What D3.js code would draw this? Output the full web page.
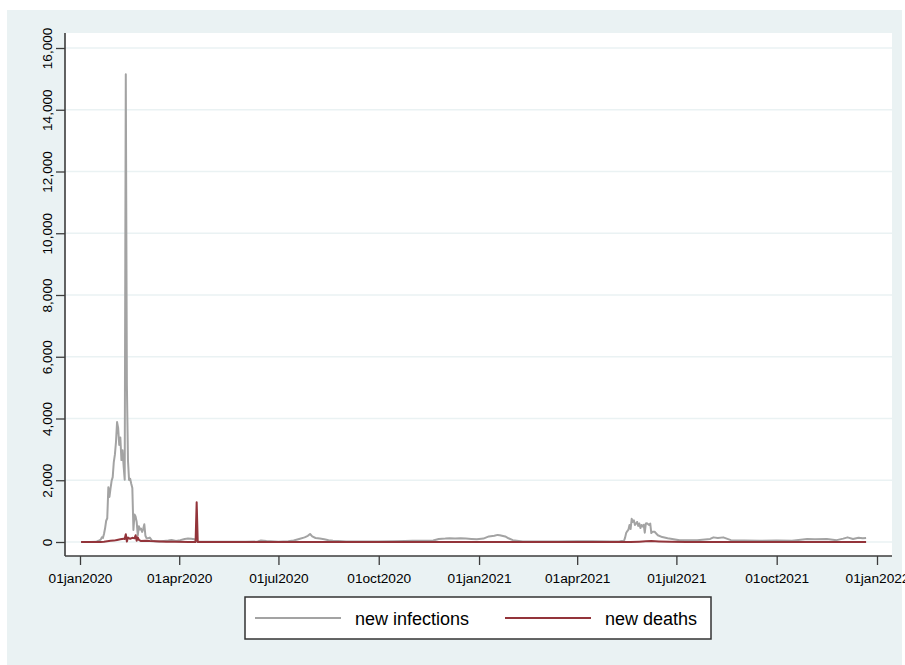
<!DOCTYPE html>
<html>
<head>
<meta charset="utf-8">
<script src="https://cdn.jsdelivr.net/npm/d3@7"></script>
<style>
  body { margin: 0; background: #fff; }
  svg { display: block; font-family: "Liberation Sans", Arial, sans-serif; }
</style>
</head>
<body>
<div id="chart"></div>
<script>
// Daily new infections (irregular dates where the curve changes)
const infectionDates = [
  "2020-01-02","2020-01-10","2020-01-16","2020-01-18","2020-01-20","2020-01-21","2020-01-22","2020-01-23",
  "2020-01-24","2020-01-25","2020-01-26","2020-01-27","2020-01-28","2020-01-29","2020-01-30","2020-01-31",
  "2020-02-01","2020-02-02","2020-02-03","2020-02-04","2020-02-05","2020-02-06","2020-02-07","2020-02-08",
  "2020-02-09","2020-02-10","2020-02-11","2020-02-12","2020-02-13","2020-02-14","2020-02-15","2020-02-16",
  "2020-02-17","2020-02-18","2020-02-19","2020-02-20","2020-02-21","2020-02-22","2020-02-23","2020-02-24",
  "2020-02-25","2020-02-26","2020-02-27","2020-02-28","2020-02-29","2020-03-01","2020-03-02","2020-03-03",
  "2020-03-05","2020-03-07","2020-03-10","2020-03-14","2020-03-18","2020-03-22","2020-03-25","2020-03-29",
  "2020-04-02","2020-04-06","2020-04-09","2020-04-12","2020-04-15","2020-04-17","2020-04-18","2020-05-01",
  "2020-05-15","2020-06-01","2020-06-12","2020-06-15","2020-06-20","2020-07-01","2020-07-10","2020-07-15",
  "2020-07-20","2020-07-25","2020-07-28","2020-07-30","2020-08-01","2020-08-04","2020-08-08","2020-08-12",
  "2020-08-16","2020-08-20","2020-08-25","2020-09-01","2020-09-15","2020-10-01","2020-10-15","2020-10-25",
  "2020-11-01","2020-11-10","2020-11-20","2020-11-25","2020-12-01","2020-12-05","2020-12-10","2020-12-15",
  "2020-12-20","2020-12-25","2020-12-30","2021-01-05","2021-01-10","2021-01-15","2021-01-18","2021-01-20",
  "2021-01-25","2021-01-28","2021-02-01","2021-02-10","2021-02-20","2021-03-01","2021-03-15","2021-04-01",
  "2021-04-15","2021-05-01","2021-05-10","2021-05-14","2021-05-15","2021-05-16","2021-05-17","2021-05-18",
  "2021-05-19","2021-05-20","2021-05-21","2021-05-22","2021-05-23","2021-05-24","2021-05-25","2021-05-26",
  "2021-05-27","2021-05-28","2021-05-29","2021-05-30","2021-05-31","2021-06-01","2021-06-02","2021-06-03",
  "2021-06-04","2021-06-06","2021-06-07","2021-06-08","2021-06-09","2021-06-11","2021-06-14","2021-06-18",
  "2021-06-23","2021-07-04","2021-07-20","2021-08-01","2021-08-04","2021-08-08","2021-08-13","2021-08-20",
  "2021-09-01","2021-09-15","2021-10-01","2021-10-15","2021-10-29","2021-11-05","2021-11-16","2021-11-25",
  "2021-12-01","2021-12-05","2021-12-10","2021-12-15","2021-12-19","2021-12-22"
];
const infections = [
  0,0,5,40,77,149,131,259,
  444,688,769,1771,1459,1737,1982,2102,
  2590,2829,3235,3884,3694,3143,3385,2652,
  2973,2467,2015,15152,5090,2641,2008,2048,
  1886,1749,391,889,823,648,214,508,
  406,433,327,427,573,202,125,119,
  143,44,24,20,34,46,67,31,
  60,100,110,108,90,30,20,10,
  8,5,15,50,30,10,25,50,
  100,150,200,260,180,130,110,90,
  60,40,30,15,15,20,25,35,
  40,40,50,100,110,120,110,120,
  110,100,90,110,180,200,230,220,
  180,120,60,20,15,20,20,25,
  25,20,25,40,150,300,350,400,
  550,420,750,650,700,550,600,650,
  520,600,450,550,500,560,300,600,
  610,550,600,290,330,330,220,160,
  120,60,60,100,150,130,150,60,
  50,40,50,40,100,90,100,60,
  110,150,100,140,120,130
];

// Daily new deaths
const deathDates = [
  "2020-01-02","2020-01-20","2020-01-23","2020-01-26","2020-01-29","2020-02-01","2020-02-04","2020-02-07",
  "2020-02-10","2020-02-11","2020-02-12","2020-02-13","2020-02-14","2020-02-16","2020-02-18","2020-02-20",
  "2020-02-21","2020-02-22","2020-02-23","2020-02-24","2020-02-26","2020-03-01","2020-03-05","2020-03-10",
  "2020-03-15","2020-03-20","2020-03-28","2020-04-10","2020-04-16","2020-04-17","2020-04-18","2021-05-20",
  "2021-05-28","2021-06-03","2021-06-08","2021-06-15","2021-06-25","2021-07-10","2021-12-22"
];
const deaths = [
  0,0,9,24,38,45,66,86,
  108,97,254,13,143,105,136,118,
  220,40,150,71,29,42,30,22,
  14,7,5,2,1,1290,0,0,
  12,25,30,20,10,3,0
];

const yTicks = [0, 2000, 4000, 6000, 8000, 10000, 12000, 14000, 16000];
const xTicks = ["2020-01-01","2020-04-01","2020-07-01","2020-10-01","2021-01-01","2021-04-01","2021-07-01","2021-10-01","2022-01-01"];
const seriesNames = ["new infections", "new deaths"];

const width = 905, height = 665;
const plot = { left: 65, right: 892, top: 33, bottom: 556 };
const colors = ["#a3a3a3", "#93343a"];

const parse = d3.timeParse("%Y-%m-%d");
const fmtTick = d => d3.timeFormat("%d%b%Y")(d).toLowerCase();

const svg = d3.select("#chart").append("svg")
  .attr("width", width)
  .attr("height", height);

// graph region
svg.append("rect")
  .attr("x", 7).attr("y", 10)
  .attr("width", 895).attr("height", 655)
  .attr("fill", "#eaf2f3");

// plot region
svg.append("rect")
  .attr("x", plot.left).attr("y", plot.top)
  .attr("width", plot.right - plot.left).attr("height", plot.bottom - plot.top)
  .attr("fill", "#fff");

const x = d3.scaleTime()
  .domain([parse("2020-01-01"), parse("2022-01-01")])
  .range([80, 877]);

const y = d3.scaleLinear()
  .domain([0, 16000])
  .range([542, 48]);

// grid lines
svg.append("g")
  .selectAll("line")
  .data(yTicks)
  .join("line")
  .attr("x1", plot.left).attr("x2", plot.right)
  .attr("y1", d => y(d)).attr("y2", d => y(d))
  .attr("stroke", "#eaf2f3")
  .attr("stroke-width", 1.5);

// series
const line = d3.line()
  .x(d => x(d.date))
  .y(d => y(d.value));

const infData = infectionDates.map((d, i) => ({ date: parse(d), value: infections[i] }));
const deathData = deathDates.map((d, i) => ({ date: parse(d), value: deaths[i] }));

[infData, deathData].forEach((data, i) => {
  svg.append("path")
    .datum(data)
    .attr("d", line)
    .attr("fill", "none")
    .attr("stroke", colors[i])
    .attr("stroke-width", 2)
    .attr("stroke-linejoin", "round");
});

// Y axis
const yAxis = svg.append("g")
  .attr("transform", `translate(${plot.left},0)`)
  .call(d3.axisLeft(y).tickValues(yTicks).tickSize(9).tickPadding(4).tickFormat(d3.format(",")));
yAxis.select(".domain").remove();
yAxis.selectAll(".tick line").attr("stroke", "#3c3c3c").attr("stroke-width", 1.3);
yAxis.selectAll(".tick text")
  .attr("transform", "rotate(-90)")
  .attr("x", 0).attr("y", -13)
  .attr("dy", 0)
  .attr("text-anchor", "middle")
  .attr("fill", "#000")
  .style("font-size", "13.5px");
svg.append("line")
  .attr("x1", plot.left).attr("x2", plot.left)
  .attr("y1", plot.top).attr("y2", plot.bottom)
  .attr("stroke", "#3c3c3c").attr("stroke-width", 1.6);

// X axis
const xAxis = svg.append("g")
  .attr("transform", `translate(0,${plot.bottom})`)
  .call(d3.axisBottom(x).tickValues(xTicks.map(parse)).tickSize(9).tickFormat(fmtTick));
xAxis.select(".domain").remove();
xAxis.selectAll(".tick line").attr("stroke", "#3c3c3c").attr("stroke-width", 1.3);
xAxis.selectAll(".tick text")
  .attr("y", 27).attr("dy", 0)
  .attr("fill", "#000")
  .style("font-size", "13.7px");
svg.append("line")
  .attr("x1", plot.left).attr("x2", plot.right)
  .attr("y1", plot.bottom).attr("y2", plot.bottom)
  .attr("stroke", "#3c3c3c").attr("stroke-width", 1.6);

// legend
const legend = svg.append("g");
legend.append("rect")
  .attr("x", 245).attr("y", 597)
  .attr("width", 466).attr("height", 42)
  .attr("fill", "#fff")
  .attr("stroke", "#333")
  .attr("stroke-width", 1.5);

const legendX = [255, 505];
seriesNames.forEach((name, i) => {
  legend.append("line")
    .attr("x1", legendX[i]).attr("x2", legendX[i] + 86)
    .attr("y1", 618).attr("y2", 618)
    .attr("stroke", colors[i])
    .attr("stroke-width", 2);
  legend.append("text")
    .attr("x", legendX[i] + 100)
    .attr("y", 624.5)
    .style("font-size", "18px")
    .text(name);
});
</script>
</body>
</html>
